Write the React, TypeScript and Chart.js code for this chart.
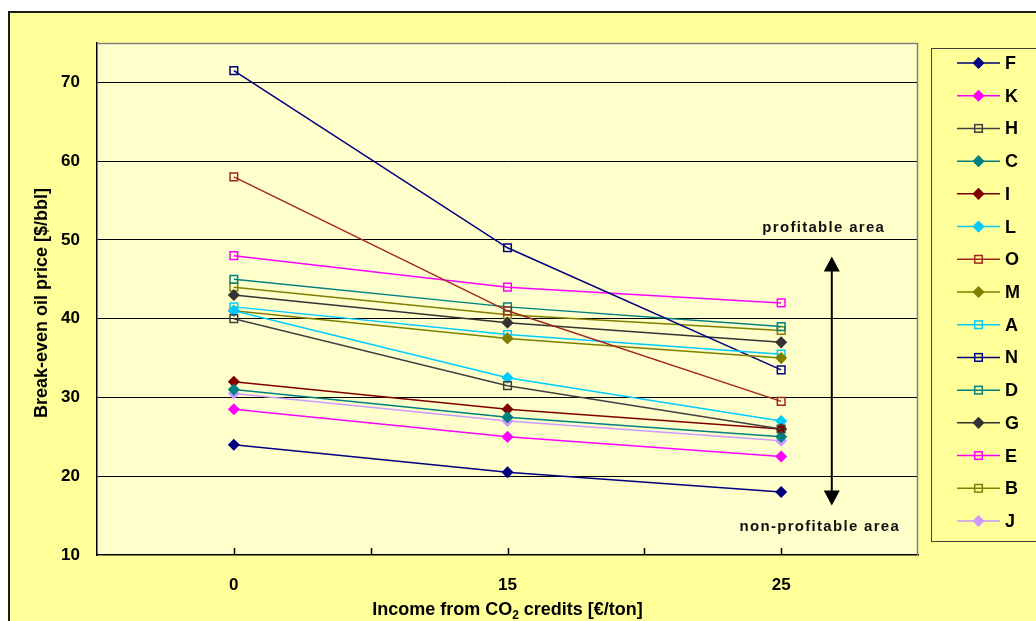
import React, { useEffect, useRef } from 'react';
import { Chart, registerables } from 'chart.js';

Chart.register(...registerables);

const FONT = '"Liberation Sans", Arial, Helvetica, sans-serif';

// ---- data ----
const categories = ['0', '15', '25'];
const seriesNames = ['F', 'K', 'H', 'C', 'I', 'L', 'O', 'M', 'A', 'N', 'D', 'G', 'E', 'B', 'J'];
const F = [24, 20.5, 18];
const K = [28.5, 25, 22.5];
const H = [40, 31.5, 26];
const C = [31, 27.5, 25];
const I = [32, 28.5, 26];
const L = [41, 32.5, 27];
const O = [58, 41, 29.5];
const M = [41, 37.5, 35];
const A = [41.5, 38, 35.5];
const N = [71.5, 49, 33.5];
const D = [45, 41.5, 39];
const G = [43, 39.5, 37];
const E = [48, 44, 42];
const B = [44, 40.5, 38.5];
const J = [30.5, 27, 24.5];
const seriesValues = [F, K, H, C, I, L, O, M, A, N, D, G, E, B, J];
const seriesColors = [
  '#000080', '#FF00FF', '#404040', '#008080', '#800000', '#00CCFF', '#A0281E', '#808000',
  '#00CCFF', '#000080', '#008080', '#333333', '#FF00FF', '#808000', '#CC99FF',
];
const seriesMarkers = [
  'diamond', 'diamond', 'square', 'diamond', 'diamond', 'diamond', 'square', 'diamond',
  'square', 'square', 'square', 'diamond', 'square', 'square', 'diamond',
];
const yMin = 10;
const yMax = 75;
const yStep = 10;
const xTitleMain = 'Income from CO';
const xTitleSub = '2';
const xTitleEnd = ' credits [€/ton]';
const yTitle = 'Break-even oil price [$/bbl]';
const upperNote = 'profitable area';
const lowerNote = 'non-profitable area';
const arrowTopValue = 47.9;
const arrowBottomValue = 16.3;

function drawMarker(ctx: CanvasRenderingContext2D, kind: string, x: number, y: number, color: string) {
  ctx.save();
  ctx.lineWidth = 1.5;
  ctx.strokeStyle = color;
  ctx.fillStyle = color;
  if (kind === 'diamond') {
    const r = 5;
    ctx.beginPath();
    ctx.moveTo(x, y - r);
    ctx.lineTo(x + r, y);
    ctx.lineTo(x, y + r);
    ctx.lineTo(x - r, y);
    ctx.closePath();
    ctx.fill();
    ctx.stroke();
  } else {
    const s = 3.8;
    ctx.strokeRect(x - s, y - s, 2 * s, 2 * s);
  }
  ctx.restore();
}

const decor = {
  id: 'decor',
  beforeDraw(chart: any) {
    const { ctx, chartArea: a, width, height } = chart;
    ctx.save();
    ctx.fillStyle = '#FFFFFF';
    ctx.fillRect(0, 0, width, height);
    ctx.fillStyle = '#FFFF99';
    ctx.fillRect(8, 11, width, height);
    ctx.strokeStyle = '#1a1a1a';
    ctx.lineWidth = 2;
    ctx.beginPath();
    ctx.moveTo(9, height + 5);
    ctx.lineTo(9, 12);
    ctx.lineTo(width + 5, 12);
    ctx.stroke();
    ctx.fillStyle = '#FFFFCC';
    ctx.fillRect(a.left, a.top, a.right - a.left, a.bottom - a.top);
    ctx.restore();
  },
  afterDraw(chart: any) {
    const { ctx, chartArea: a } = chart;
    const xs = chart.scales.x;
    const ys = chart.scales.y;
    ctx.save();
    // plot area top/right border
    ctx.strokeStyle = '#808080';
    ctx.lineWidth = 1.5;
    ctx.beginPath();
    ctx.moveTo(a.left, a.top + 0.5);
    ctx.lineTo(a.right - 0.5, a.top + 0.5);
    ctx.lineTo(a.right - 0.5, a.bottom);
    ctx.stroke();

    // x tick marks (inside)
    ctx.strokeStyle = '#000';
    ctx.lineWidth = 1.5;
    const n = categories.length;
    const positions: number[] = [];
    for (let i = 0; i < n; i++) positions.push(xs.getPixelForValue(i));
    for (let i = 0; i < n - 1; i++) positions.push((positions[i] + positions[i + 1]) / 2);
    ctx.beginPath();
    positions.forEach((px) => {
      ctx.moveTo(Math.round(px) + 0.5, a.bottom);
      ctx.lineTo(Math.round(px) + 0.5, a.bottom - 7);
    });
    ctx.stroke();

    // axis titles
    ctx.fillStyle = '#000';
    ctx.textBaseline = 'alphabetic';
    ctx.font = `bold 18px ${FONT}`;
    const w1 = ctx.measureText(xTitleMain).width;
    const w3 = ctx.measureText(xTitleEnd).width;
    ctx.font = `bold 12px ${FONT}`;
    const w2 = ctx.measureText(xTitleSub).width;
    const total = w1 + w2 + w3;
    let tx = (a.left + a.right) / 2 - total / 2;
    const tb = 615;
    ctx.textAlign = 'left';
    ctx.font = `bold 18px ${FONT}`;
    ctx.fillText(xTitleMain, tx, tb);
    tx += w1;
    ctx.font = `bold 12px ${FONT}`;
    ctx.fillText(xTitleSub, tx, tb + 4);
    tx += w2;
    ctx.font = `bold 18px ${FONT}`;
    ctx.fillText(xTitleEnd, tx, tb);

    ctx.save();
    ctx.translate(47, (a.top + a.bottom) / 2 + 4);
    ctx.rotate(-Math.PI / 2);
    ctx.textAlign = 'center';
    ctx.font = `bold 18px ${FONT}`;
    ctx.fillText(yTitle, 0, 0);
    ctx.restore();

    // arrow + notes
    const ax = xs.getPixelForValue(n - 1) + (a.right - xs.getPixelForValue(n - 1)) * 0.37;
    const yTop = ys.getPixelForValue(arrowTopValue);
    const yBot = ys.getPixelForValue(arrowBottomValue);
    ctx.strokeStyle = '#000';
    ctx.fillStyle = '#000';
    ctx.lineWidth = 2;
    ctx.beginPath();
    ctx.moveTo(ax, yTop + 10);
    ctx.lineTo(ax, yBot - 10);
    ctx.stroke();
    ctx.beginPath();
    ctx.moveTo(ax, yTop);
    ctx.lineTo(ax + 8, yTop + 15);
    ctx.lineTo(ax - 8, yTop + 15);
    ctx.closePath();
    ctx.fill();
    ctx.beginPath();
    ctx.moveTo(ax, yBot);
    ctx.lineTo(ax + 8, yBot - 15);
    ctx.lineTo(ax - 8, yBot - 15);
    ctx.closePath();
    ctx.fill();

    ctx.font = `bold 15px ${FONT}`;
    (ctx as any).letterSpacing = '1.3px';
    ctx.textAlign = 'center';
    ctx.fillStyle = '#111';
    ctx.fillText(upperNote, ax - 8, yTop - 24);
    ctx.fillText(lowerNote, ax - 12, yBot + 26);
    (ctx as any).letterSpacing = '0px';

    // legend
    const lx = 931;
    const ly = 48;
    ctx.fillStyle = '#FFFF99';
    ctx.fillRect(lx, ly, 200, 493);
    ctx.strokeStyle = '#404040';
    ctx.lineWidth = 1;
    ctx.strokeRect(lx + 0.5, ly + 0.5, 200, 493);
    const ds = chart.data.datasets;
    const step = (521 - 63) / (ds.length - 1);
    ds.forEach((d: any, i: number) => {
      const y = 63 + i * step;
      ctx.strokeStyle = d.borderColor;
      ctx.lineWidth = 1.5;
      ctx.beginPath();
      ctx.moveTo(957, y);
      ctx.lineTo(1000, y);
      ctx.stroke();
      drawMarker(ctx, seriesMarkers[i], 978.5, y, d.borderColor);
      ctx.fillStyle = '#000';
      ctx.font = `bold 18px ${FONT}`;
      ctx.textAlign = 'left';
      ctx.textBaseline = 'middle';
      ctx.fillText(d.label, 1005, y + 1);
    });
    ctx.restore();
  },
};

export default function App() {
  const ref = useRef<HTMLCanvasElement | null>(null);
  useEffect(() => {
    document.body.style.margin = '0';
    document.body.style.overflow = 'hidden';
    const canvas = ref.current;
    if (!canvas) return;
    const datasets = seriesNames.map((name, i) => {
      const c = seriesColors[i];
      const diamond = seriesMarkers[i] === 'diamond';
      return {
        label: name,
        data: seriesValues[i],
        borderColor: c,
        backgroundColor: c,
        borderWidth: 1.5,
        tension: 0,
        pointStyle: diamond ? 'rectRot' : 'rect',
        pointRadius: diamond ? 5 : 5.4,
        pointBorderWidth: 1.5,
        pointBackgroundColor: diamond ? c : 'rgba(0,0,0,0)',
        pointBorderColor: c,
      };
    });
    const chart = new Chart(canvas, {
      type: 'line',
      data: { labels: categories, datasets: datasets as any },
      options: {
        animation: false,
        responsive: false,
        devicePixelRatio: 1,
        layout: { padding: { left: 0, top: 43, right: 118, bottom: 26 } },
        plugins: { legend: { display: false }, tooltip: { enabled: false } },
        scales: {
          x: {
            type: 'category',
            offset: true,
            grid: { display: false, drawTicks: false },
            border: { display: true, color: '#000', width: 1.5 },
            ticks: {
              color: '#000',
              font: { family: FONT, size: 17, weight: 'bold' },
              padding: 20,
              maxRotation: 0,
            },
            afterFit: (s: any) => {
              s.height = 40;
            },
          },
          y: {
            min: yMin,
            max: yMax,
            ticks: {
              stepSize: yStep,
              color: '#000',
              font: { family: FONT, size: 17, weight: 'bold' },
              padding: 17,
              callback: (v: any) => (v === yMax ? '' : String(v)),
            },
            grid: {
              drawTicks: false,
              lineWidth: 1,
              color: (c: any) =>
                c.tick && (c.tick.value === yMax || c.tick.value === yMin) ? 'rgba(0,0,0,0)' : '#000',
            },
            border: { display: true, color: '#000', width: 1.5 },
            afterFit: (s: any) => {
              s.width = 97;
            },
          },
        },
      } as any,
      plugins: [decor],
    });
    return () => chart.destroy();
  }, []);
  return (
    <div style={{ position: 'fixed', left: 0, top: 0, width: 1036, height: 621 }}>
      <canvas ref={ref} width={1036} height={621} style={{ display: 'block', width: 1036, height: 621 }} />
    </div>
  );
}
